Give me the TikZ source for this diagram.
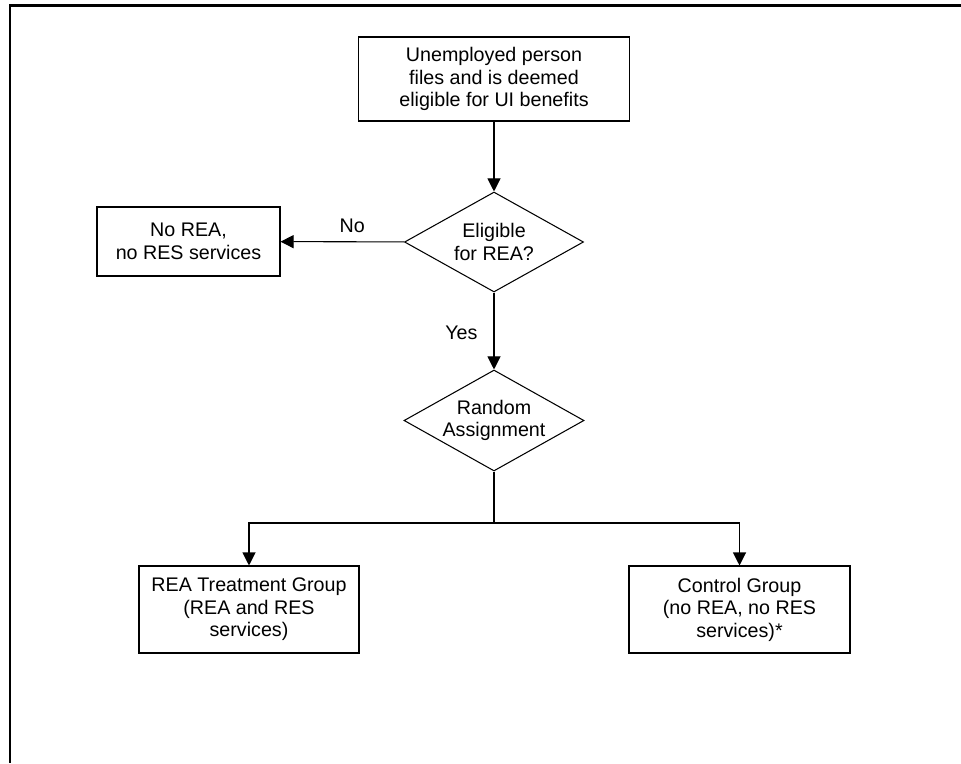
\documentclass[tikz,border=0pt]{standalone}
\usepackage{fontspec}
\setmainfont{Liberation Sans}
\usetikzlibrary{shapes.geometric,arrows.meta}
\begin{document}
\begin{tikzpicture}[x=0.2mm,y=0.2mm,
  every node/.style={inner sep=0pt,font=\fontsize{11.2}{12.8}\selectfont},
  box/.style={draw,rectangle,line width=0.6pt,align=center},
  decision/.style={draw,diamond,line width=0.6pt,align=center,aspect=1.8},
  link/.style={line width=0.6pt,-{Triangle[length=7.4pt,width=7.4pt]}}]
\useasboundingbox (0,0) rectangle (961,-763);
% frame
\draw [line width=2pt] (9,-5.5) -- (961,-5.5);
\draw [line width=1.4pt] (10,-4) -- (10,-763);
% nodes
\node [box,minimum width=54.2mm,minimum height=16.8mm] (start) at (494,-79) {Unemployed person\\files and is deemed\\eligible for UI benefits};
\node [decision,minimum width=35.8mm,minimum height=20mm] (elig) at (494,-242) {Eligible\\for REA?};
\node [box,minimum width=36.6mm,minimum height=13.8mm] (noserv) at (188.5,-241.5) {No REA,\\no RES services};
\node [decision,minimum width=36mm,minimum height=20.2mm] (rand) at (494,-420.5) {Random\\Assignment};
\node [box,minimum width=44mm,minimum height=17.4mm] (treat) at (249,-609.5) {REA Treatment Group\\(REA and RES\\services)};
\node [box,minimum width=44.2mm,minimum height=17.4mm] (ctrl) at (739.5,-609.5) {Control Group\\(no REA, no RES\\services)*};
\coordinate (split) at (494,-523);
% connectors
\draw [link] (start) -- (elig);
\draw [link] (elig) -- node [pos=0.42,above=1.8mm] (no) {No} (noserv);
\draw [link] (elig) -- node [pos=0.52,left=3.2mm] (yes) {Yes} (rand);
\draw [line width=0.6pt] (rand) -- (split);
\draw [link] (split) -| (treat);
\draw [link] (split) -| (ctrl);
\end{tikzpicture}
\end{document}
